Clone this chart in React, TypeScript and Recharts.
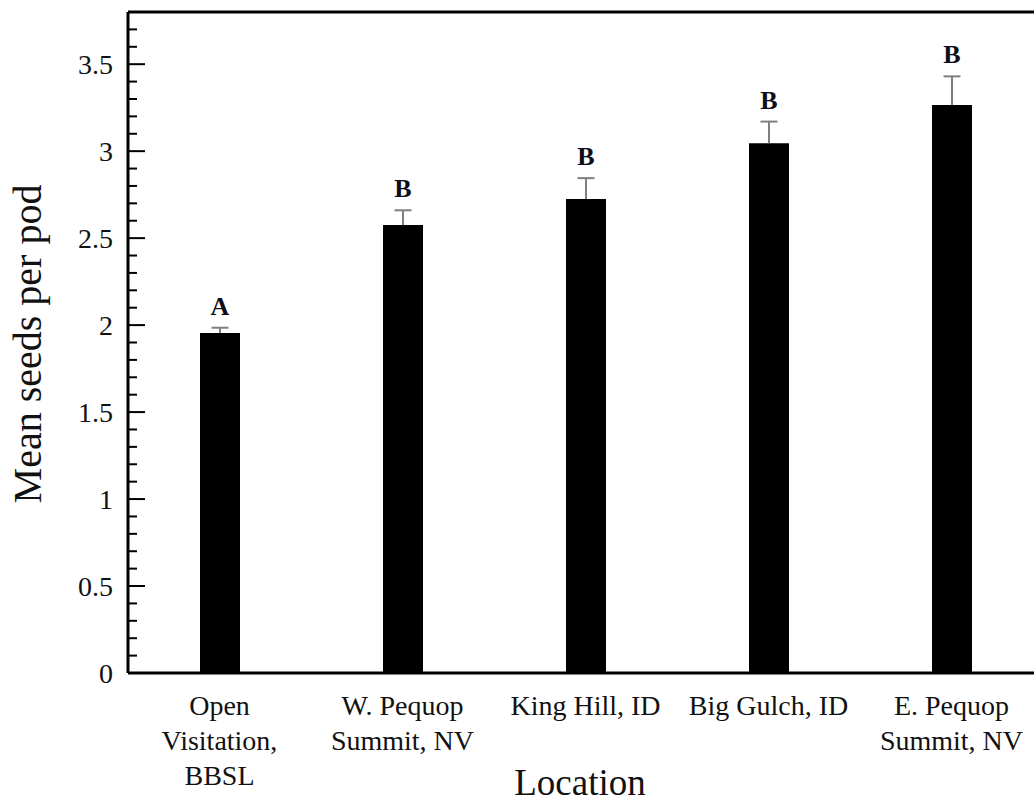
import { BarChart, Bar, XAxis, YAxis, ReferenceLine, LabelList } from 'recharts';

const locations = [
  'Open\nVisitation,\nBBSL',
  'W. Pequop\nSummit, NV',
  'King Hill, ID',
  'Big Gulch, ID',
  'E. Pequop\nSummit, NV',
];
const meanSeeds = [1.955, 2.575, 2.725, 3.045, 3.265];
const stdErr = [0.03, 0.085, 0.12, 0.125, 0.165];
const groups = ['A', 'B', 'B', 'B', 'B'];

const yTicks = [
  0, 0.1, 0.2, 0.3, 0.4, 0.5, 0.6, 0.7, 0.8, 0.9, 1, 1.1, 1.2, 1.3, 1.4, 1.5, 1.6, 1.7, 1.8, 1.9,
  2, 2.1, 2.2, 2.3, 2.4, 2.5, 2.6, 2.7, 2.8, 2.9, 3, 3.1, 3.2, 3.3, 3.4, 3.5, 3.6, 3.7,
];
const yLabels = ['0', '0.5', '1', '1.5', '2', '2.5', '3', '3.5'];

const data = locations.map((loc, i) => ({
  loc,
  mean: meanSeeds[i],
  err: stdErr[i],
  group: groups[i],
}));

const FONT = '"Liberation Serif", "Times New Roman", serif';

function YTick(props: any) {
  const { x, y, payload } = props;
  const v = payload.value;
  const label = yLabels.find((l) => Math.abs(parseFloat(l) - v) < 1e-6);
  const len = label !== undefined ? 17 : 9;
  return (
    <g>
      <line x1={x} x2={x + len} y1={y} y2={y} stroke="#000" strokeWidth={2} />
      {label !== undefined && (
        <text x={x - 15} y={y} dy="0.35em" textAnchor="end" fontSize={28} fontFamily={FONT} fill="#111">
          {label}
        </text>
      )}
    </g>
  );
}

function XTick(props: any) {
  const { x, y, payload } = props;
  const lines = String(payload.value).split('\n');
  return (
    <text textAnchor="middle" fontSize={28} fontFamily={FONT} fill="#111">
      {lines.map((l, i) => (
        <tspan key={i} x={x} y={y + 42 + i * 35}>
          {l}
        </tspan>
      ))}
    </text>
  );
}

function ErrShape(props: any) {
  const { x, y, width, height } = props;
  const cx = x + width / 2;
  return (
    <g>
      <line x1={cx} x2={cx} y1={y} y2={y + height} stroke="#7f7f7f" strokeWidth={2} />
      <line x1={cx - 8.5} x2={cx + 8.5} y1={y} y2={y} stroke="#7f7f7f" strokeWidth={2} />
    </g>
  );
}

function GroupLabel(props: any) {
  const { x, y, width, value } = props;
  return (
    <text x={x + width / 2} y={y - 13} textAnchor="middle" fontSize={26} fontWeight="bold" fontFamily={FONT} fill="#0d0d1a">
      {value}
    </text>
  );
}

export default function App() {
  return (
    <div style={{ position: 'absolute', left: 0, top: 0, width: 1034, height: 805, overflow: 'hidden', background: '#fff' }}>
      <BarChart
        width={1060}
        height={805}
        data={data}
        margin={{ top: 12, right: 17, left: 0, bottom: 12 }}
        barSize={40}
      >
        <XAxis
          dataKey="loc"
          height={120}
          tickLine={false}
          tickSize={0}
          tickMargin={0}
          axisLine={{ stroke: '#000', strokeWidth: 3 }}
          tick={<XTick />}
          interval={0}
          label={{
            content: () => (
              <text x={580} y={795} textAnchor="middle" fontSize={37} fontFamily={FONT} fill="#111">
                Location
              </text>
            ),
          }}
        />
        <YAxis
          width={128}
          domain={[0, 3.8]}
          ticks={yTicks}
          interval={0}
          tickLine={false}
          tickSize={0}
          tickMargin={0}
          axisLine={{ stroke: '#000', strokeWidth: 3 }}
          tick={<YTick />}
          label={{
            content: () => (
              <text
                x={41}
                y={344}
                transform="rotate(-90, 41, 344)"
                textAnchor="middle"
                fontSize={40}
                fontFamily={FONT}
                fill="#111"
              >
                Mean seeds per pod
              </text>
            ),
          }}
        />
        <ReferenceLine y={3.8} stroke="#000" strokeWidth={3} />
        <Bar dataKey="mean" stackId="s" fill="#000" isAnimationActive={false} />
        <Bar dataKey="err" stackId="s" fill="none" shape={<ErrShape />} isAnimationActive={false}>
          <LabelList dataKey="group" content={<GroupLabel />} />
        </Bar>
      </BarChart>
    </div>
  );
}
